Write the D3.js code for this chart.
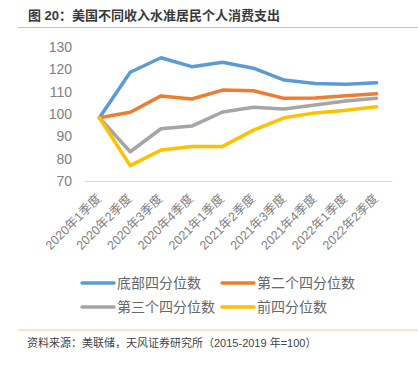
<!DOCTYPE html>
<html><head><meta charset="utf-8">
<script src="https://cdn.jsdelivr.net/npm/d3@7"></script>
<style>
body{margin:0;background:#fff;}
text{font-family:"Liberation Sans","Noto Sans CJK SC",sans-serif;}
</style></head>
<body><svg id="c" width="418" height="370"></svg>
<script>
const categories = ["2020年1季度","2020年2季度","2020年3季度","2020年4季度","2021年1季度","2021年2季度","2021年3季度","2021年4季度","2022年1季度","2022年2季度"];
const seriesNames = ["底部四分位数","第二个四分位数","第三个四分位数","前四分位数"];
const bottomQ = [98.3,118.7,125.2,121.2,123.2,120.5,115.2,113.7,113.3,114.0];
const secondQ = [98.3,100.8,108.1,106.7,110.7,110.4,107.0,107.2,108.2,109.1];
const thirdQ  = [98.3,83.1,93.4,94.6,100.9,103.0,102.2,104.0,105.8,107.0];
const topQ    = [98.3,76.9,83.9,85.4,85.5,92.8,98.3,100.5,101.7,103.2];
const yTicks = [70,80,90,100,110,120,130];
const colors = ["#5b9bd5","#ed7d31","#a5a5a5","#ffc000"];
const series = [bottomQ, secondQ, thirdQ, topQ];

const svg = d3.select("#c");
svg.append("rect").attr("width",418).attr("height",370).attr("fill","#fff");

// title
svg.append("text").attr("x",28).attr("y",19.5).attr("font-size",13).attr("font-weight","bold")
  .attr("fill","#3a3a3a").text("图 20：美国不同收入水准居民个人消费支出");
svg.append("line").attr("x1",18).attr("x2",418).attr("y1",27.5).attr("y2",27.5)
  .attr("stroke","#f4b183").attr("stroke-width",1.2);

const x = d3.scaleBand().domain(categories).range([84,392]);
const y = d3.scaleLinear().domain([70,130]).range([181,47]);

// y axis labels
const ya = svg.append("g").attr("transform","translate(84,0)")
  .call(d3.axisLeft(y).tickValues(yTicks).tickSize(0).tickPadding(12));
ya.select(".domain").remove();
ya.selectAll("text").attr("font-size",14).attr("fill","#808080").attr("font-family",null);

// x axis
const xa = svg.append("g").attr("transform","translate(0,181)")
  .call(d3.axisBottom(x).tickSize(0).tickSizeOuter(0));
xa.select(".domain").attr("stroke","#d9d9d9").attr("stroke-width",1.2);
xa.selectAll("text").attr("font-size",12.5).attr("fill","#808080").attr("font-family",null)
  .attr("text-anchor","end").attr("dy",null).attr("y",null)
  .attr("transform","translate(0,16) rotate(-45)").attr("dominant-baseline","middle");

// lines
const line = d3.line().x((d,i)=>x(categories[i])+x.bandwidth()/2).y(d=>y(d)).curve(d3.curveLinear);
series.forEach((s,k)=>{
  svg.append("path").datum(s).attr("d",line).attr("fill","none")
    .attr("stroke",colors[k]).attr("stroke-width",3.5).attr("stroke-linecap","round").attr("stroke-linejoin","round");
});

// legend
const legPos = [[82,283],[222,283],[82,307],[222,307]];
seriesNames.forEach((n,k)=>{
  const g = svg.append("g").attr("transform",`translate(${legPos[k][0]},${legPos[k][1]})`);
  g.append("line").attr("x1",0).attr("x2",32).attr("y1",0).attr("y2",0)
    .attr("stroke",colors[k]).attr("stroke-width",3.5).attr("stroke-linecap","round");
  g.append("text").attr("x",35).attr("y",0).attr("dy","0.35em").attr("font-size",14)
    .attr("fill","#666").text(n);
});

// footer
svg.append("line").attr("x1",18).attr("x2",418).attr("y1",330).attr("y2",330)
  .attr("stroke","#f8cba0").attr("stroke-width",1.2);
svg.append("text").attr("x",27).attr("y",346.5).attr("font-size",11).attr("fill","#444")
  .text("资料来源：美联储，天风证券研究所（2015-2019 年=100）");
</script></body></html>
